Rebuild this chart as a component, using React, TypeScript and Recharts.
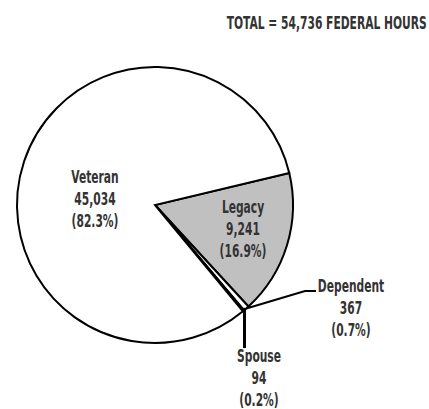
import { PieChart, Pie, Cell } from "recharts"

const names = ["Legacy", "Dependent", "Spouse", "Veteran"]
const hours = [9241, 367, 94, 45034]
const shares = ["16.9%", "0.7%", "0.2%", "82.3%"]
const fills = ["#c0c0c0", "#ffffff", "#ffffff", "#ffffff"]
const totalHours = 54736

const data = names.map((name, i) => ({ name, value: hours[i], share: shares[i] }))

const RADIAN = Math.PI / 180
const font = "'DejaVu Sans Condensed', 'Liberation Sans Narrow', sans-serif"
const squeeze = 0.7 // fake a condensed face

// label block positions, relative to the pie centre
const labelSpots: Record<string, { dx: number; dy: number }> = {
  Veteran: { dx: -60, dy: -22 },
  Legacy: { dx: 88, dy: 8 },
  Dependent: { dx: 196, dy: 87 },
  Spouse: { dx: 104, dy: 157 },
}

function renderLabel(props: any) {
  const { cx, cy, midAngle, outerRadius, index } = props
  const name = names[index]
  const spot = labelSpots[name]
  const tx = cx + spot.dx
  const ty = cy + spot.dy
  const ax = cx + outerRadius * Math.cos(-midAngle * RADIAN)
  const ay = cy + outerRadius * Math.sin(-midAngle * RADIAN)
  let leader = null
  if (name === "Dependent") {
    leader = (
      <polyline
        points={`${ax},${ay} ${cx + 150},${cy + 86} ${cx + 161},${cy + 86}`}
        fill="none"
        stroke="#000"
        strokeWidth={2}
      />
    )
  }
  if (name === "Spouse") {
    leader = <line x1={ax + 1} y1={ay - 3} x2={ax + 1} y2={cy + 143} stroke="#000" strokeWidth={3} />
  }
  return (
    <g>
      {leader}
      <text
        transform={`translate(${tx},${ty}) scale(${squeeze},1)`}
        x={0}
        y={0}
        textAnchor="middle"
        fill="#333"
        fontFamily={font}
        fontWeight={700}
        fontSize={17}
      >
        <tspan x={0} dy={0}>{name}</tspan>
        <tspan x={0} dy={22}>{hours[index].toLocaleString("en-US")}</tspan>
        <tspan x={0} dy={22}>({shares[index]})</tspan>
      </text>
    </g>
  )
}

export default function App() {
  return (
    <div style={{ position: "absolute", left: 0, top: 0, width: 429, height: 409, background: "#fff" }}>
      <div
        style={{
          position: "absolute",
          right: 2,
          top: 15,
          fontFamily: font,
          fontWeight: 700,
          fontSize: 17,
          lineHeight: "17px",
          color: "#333",
          whiteSpace: "nowrap",
          transform: `scaleX(${squeeze})`,
          transformOrigin: "right center",
        }}
      >
        TOTAL = {totalHours.toLocaleString("en-US")} FEDERAL HOURS
      </div>
      <PieChart width={429} height={409}>
        <Pie
          data={data}
          dataKey="value"
          nameKey="name"
          cx={150}
          cy={200}
          outerRadius={138}
          startAngle={13.4}
          endAngle={-346.6}
          stroke="#000"
          strokeWidth={2}
          label={renderLabel}
          labelLine={false}
          isAnimationActive={false}
        >
          {data.map((d, i) => (
            <Cell key={d.name} fill={fills[i]} />
          ))}
        </Pie>
      </PieChart>
    </div>
  )
}
